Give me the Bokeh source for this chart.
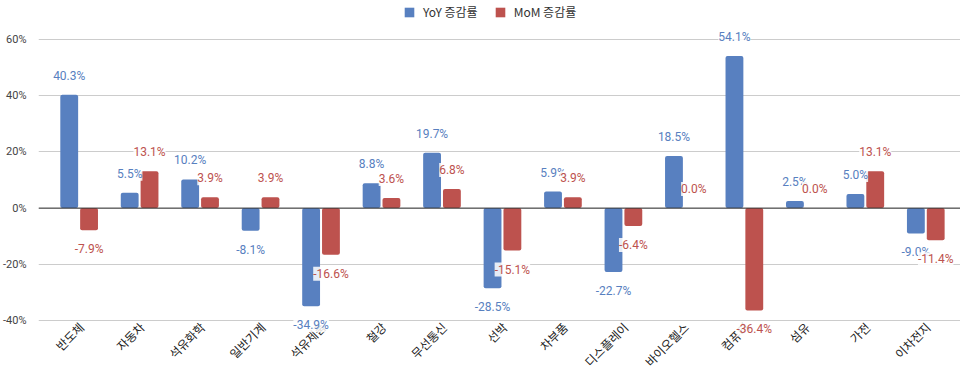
import math
import numpy as np
from bokeh.plotting import figure
from bokeh.models import (ColumnDataSource, FixedTicker, PrintfTickFormatter, Span,
                          Legend, LegendItem, Range1d)
from bokeh.core.properties import value
from bokeh.embed import file_html
from bokeh.resources import INLINE

categories = ["반도체", "자동차", "석유화학", "일반기계", "석유제품", "철강", "무선통신", "선박",
              "차부품", "디스플레이", "바이오헬스", "컴퓨터", "섬유", "가전", "이차전지"]
yoy = [40.3, 5.5, 10.2, -8.1, -34.9, 8.8, 19.7, -28.5, 5.9, -22.7, 18.5, 54.1, 2.5, 5.0, -9.0]
mom = [-7.9, 13.1, 3.9, 3.9, -16.6, 3.6, 6.8, -15.1, 3.9, -6.4, 0.0, -36.4, 0.0, 13.1, -11.4]
series_names = ["YoY 증감률", "MoM 증감률"]
y_ticks = [-40, -20, 0, 20, 40, 60]

BLUE = "#5880c0"
RED = "#bd524e"
W, H = 960, 371

# frame spans the full figure height; only tick gridlines are drawn
p = figure(width=W, height=H, output_backend="svg", toolbar_location=None,
           x_range=Range1d(-0.672, 14.574), y_range=Range1d(-58.15, 73.88),
           x_axis_location=None,
           min_border_left=30, min_border_right=0, min_border_top=0, min_border_bottom=0)
p.outline_line_color = None
p.background_fill_color = "white"

idx = np.arange(len(categories))
off = 0.164
bw = 0.295

src_b = ColumnDataSource(dict(
    x=idx - off, top=yoy,
    text=[f"{v:.1f}%" for v in yoy],
    yo=[-19 if v >= 0 else 19 for v in yoy]))
src_r = ColumnDataSource(dict(
    x=idx + off, top=mom,
    text=[f"{v:.1f}%" for v in mom],
    yo=[-19 if v >= 0 else 19 for v in mom]))

rb = p.vbar(x="x", top="top", bottom=0, width=bw, source=src_b,
            fill_color=BLUE, line_color=None, border_radius=2)
rr = p.vbar(x="x", top="top", bottom=0, width=bw, source=src_r,
            fill_color=RED, line_color=None, border_radius=2)

p.add_layout(Span(location=0, dimension="width", line_color="#333333", line_width=1))

# category labels along the bottom gridline
src_c = ColumnDataSource(dict(x=idx, y=[min(y_ticks)] * len(categories), text=categories))
p.text(x="x", y="y", text="text", source=src_c, angle=math.pi / 4,
       x_offset=2, y_offset=4, text_align="right", text_baseline="middle",
       text_font=value("Noto Sans CJK KR"), text_font_size="12px", text_color="#222222")

for src, col in ((src_b, BLUE), (src_r, RED)):
    p.text(x="x", y="top", text="text", y_offset="yo", source=src,
           text_align="center", text_baseline="middle",
           text_font=value("Roboto"), text_font_size="12px", text_color=col,
           background_fill_color="white", background_fill_alpha=0.85)

# y axis
p.yaxis.ticker = FixedTicker(ticks=y_ticks)
p.yaxis.formatter = PrintfTickFormatter(format="%d%%")
p.yaxis.axis_line_color = None
p.yaxis.major_tick_line_color = None
p.yaxis.minor_tick_line_color = None
p.yaxis.major_label_text_font = "Roboto"
p.yaxis.major_label_text_font_size = "11px"
p.yaxis.major_label_text_color = "#444444"
p.yaxis.major_label_standoff = 6
p.ygrid.grid_line_color = "#cccccc"
p.xgrid.grid_line_color = None

legend = Legend(items=[LegendItem(label=series_names[0], renderers=[rb]),
                       LegendItem(label=series_names[1], renderers=[rr])],
                orientation="horizontal", location=(365, 351),
                glyph_width=12, glyph_height=12, label_standoff=8, spacing=16,
                padding=0, margin=0, border_line_color=None, background_fill_alpha=0,
                label_text_font="Noto Sans CJK KR", label_text_font_size="12px",
                label_text_color="#333333", label_height=12, label_text_baseline="middle")
p.add_layout(legend)

open("out.html", "w").write(file_html(p, INLINE))
